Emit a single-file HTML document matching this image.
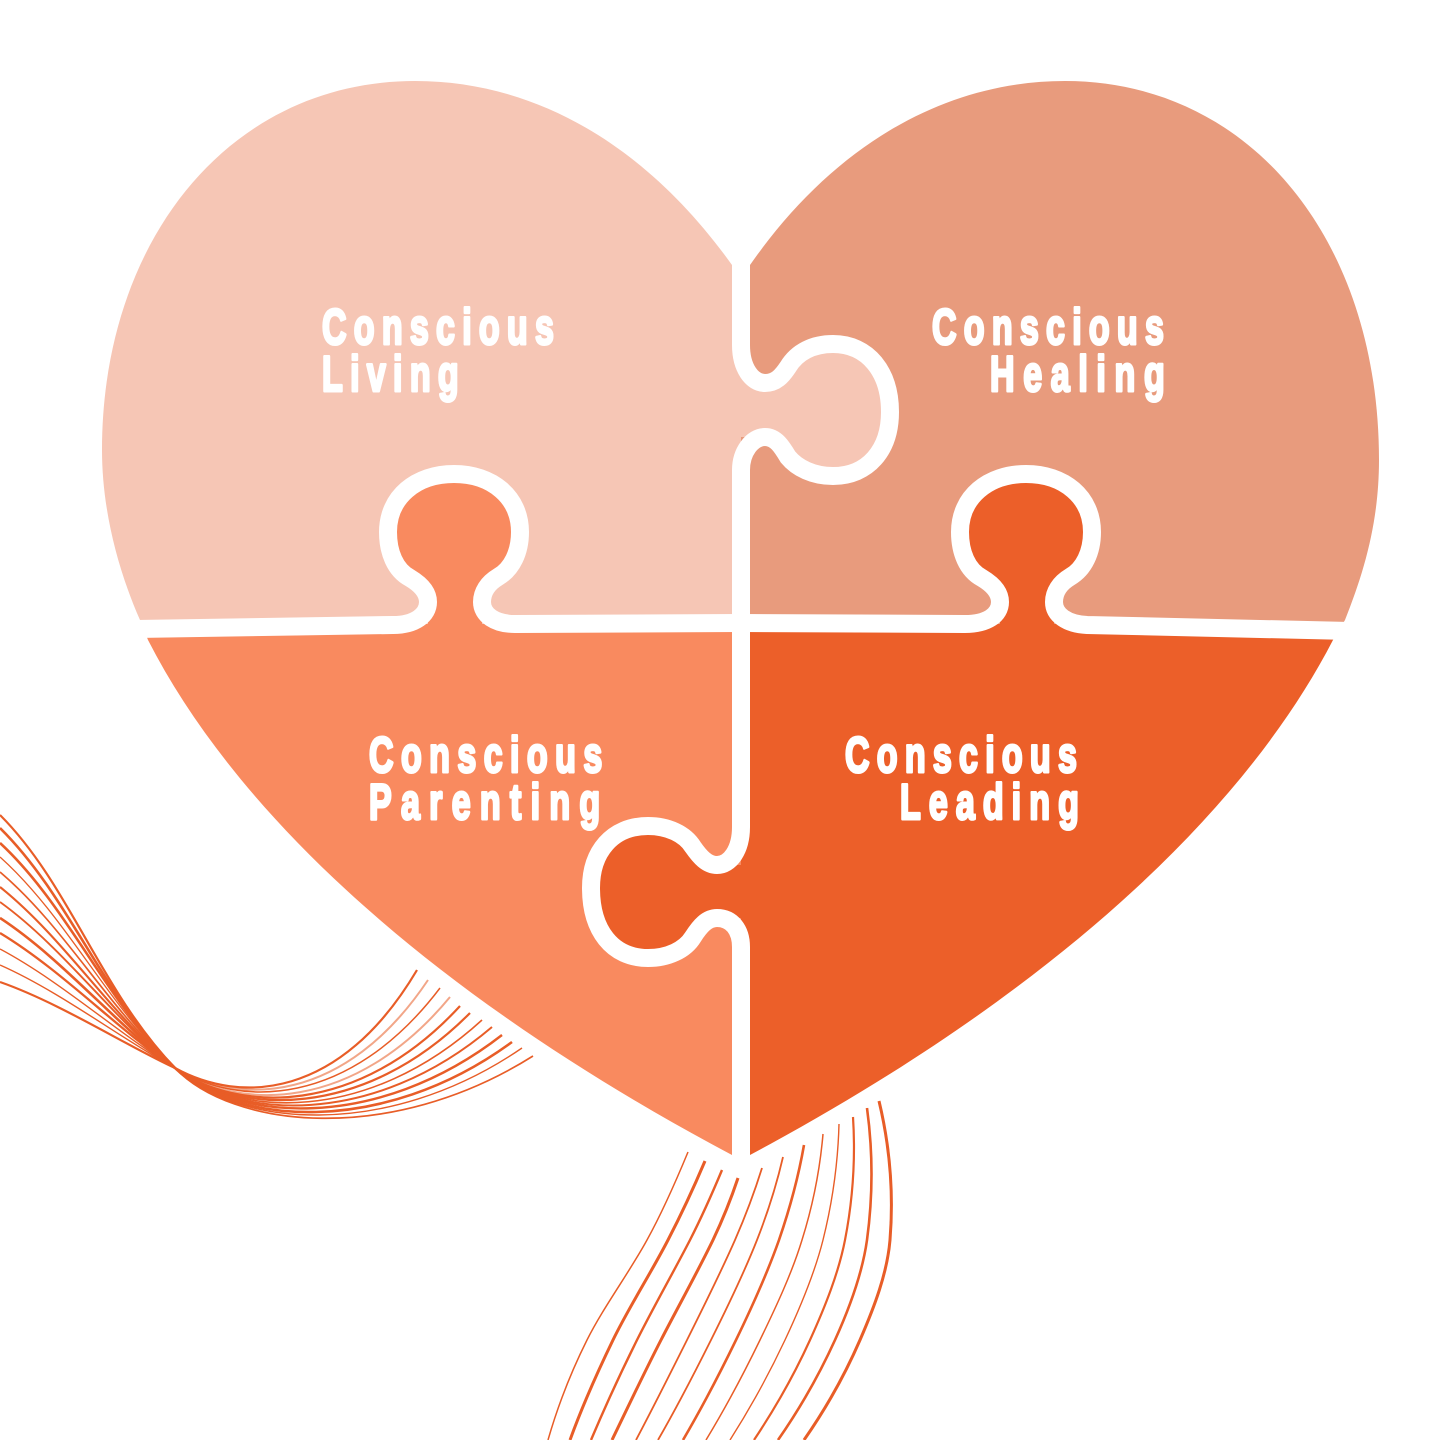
<!DOCTYPE html>
<html><head><meta charset="utf-8"><style>
html,body{margin:0;padding:0;background:#fff}
svg{display:block}
text{font-family:"Liberation Sans",sans-serif;font-weight:700;font-size:50px;fill:#fff;stroke:#fff;stroke-width:3;stroke-linejoin:round}
</style></head><body>
<svg width="1440" height="1440" viewBox="0 0 1440 1440" xmlns="http://www.w3.org/2000/svg">
<defs><clipPath id="h"><path d="M732,265 C650,150 540,81 415,81 C230,81 102,240 102,450 C102,510 118,570 140,620 L148,640 C240,820 440,1000 732,1155 L750,1155 C1040,1000 1240,820 1333,640 L1345,620 C1365,570 1379,520 1379,460 C1379,240 1250,81 1065,81 C940,81 830,150 750,265 Z"/></clipPath></defs>
<g fill="none" stroke="#e85d27" stroke-linecap="butt">
<path stroke-width="2.2" d="M0,815 C70,885 100,990 175,1068"/>
<path stroke-width="2.6" d="M0,828 C69,896 102,995 175,1068"/>
<path stroke-width="2.6" d="M0,843 C68,906 105,1000 175,1068"/>
<path stroke-width="1.3" d="M0,857 C67,917 107,1005 175,1068"/>
<path stroke-width="1.7" d="M0,872 C66,928 109,1010 175,1068"/>
<path stroke-width="2.1" d="M0,887 C65,939 111,1015 175,1068"/>
<path stroke-width="1.9" d="M0,902 C65,949 114,1020 175,1068"/>
<path stroke-width="2.6" d="M0,918 C64,960 116,1025 175,1068"/>
<path stroke-width="2.3" d="M0,933 C63,971 118,1030 175,1068"/>
<path stroke-width="1.4" d="M0,949 C62,982 120,1035 175,1068"/>
<path stroke-width="1.4" d="M0,965 C61,992 123,1040 175,1068"/>
<path stroke-width="2.2" d="M0,982 C60,1003 125,1045 175,1068"/>
<path stroke-width="1.7" d="M175,1068 C232,1128 390,1146 533,1056"/>
<path stroke-width="1.4" d="M175,1068 C233,1126 385,1142 522,1048"/>
<path stroke-width="2.6" d="M175,1068 C233,1124 381,1138 512,1042"/>
<path stroke-width="2.4" d="M175,1068 C234,1121 376,1133 502,1035"/>
<path stroke-width="2" d="M175,1068 C235,1119 372,1129 492,1027"/>
<path stroke-width="1.6" d="M175,1068 C236,1117 367,1125 482,1020"/>
<path stroke-width="2.2" d="M175,1068 C236,1115 363,1121 470,1013"/>
<path stroke-width="2.2" d="M175,1068 C237,1113 358,1117 460,1006"/>
<path stroke-width="2" stroke-opacity=".55" d="M175,1068 C238,1111 354,1113 450,997"/>
<path stroke-width="1.5" d="M175,1068 C239,1108 349,1108 440,988"/>
<path stroke-width="2" stroke-opacity=".55" d="M175,1068 C239,1106 345,1104 428,980"/>
<path stroke-width="2.2" d="M175,1068 C240,1104 340,1100 417,970"/>
<path stroke-width="1.5" d="M688,1152 C676,1181 663,1211 647,1240 C629,1273 603.5,1307 587,1340 C570.5,1373 557.5,1407 548,1440"/>
<path stroke-width="3" d="M705,1161 C694,1187 681.5,1214 668,1240 C651,1273 629,1307 613,1340 C597,1373 582,1407 570,1440"/>
<path stroke-width="2.4" d="M722,1170 C712.4,1193 701.7,1217 690,1240 C673,1273 653.5,1307 637,1340 C620.5,1373 605,1407 591,1440"/>
<path stroke-width="3" d="M738,1178 C731,1199 723,1219 713,1240 C697,1273 678,1307 661,1340 C644,1373 628,1407 612,1440"/>
<path stroke-width="1.8" d="M762,1168 C754.5,1192 745.5,1216 735,1240 C720.5,1273 703.5,1307 687,1340 C670.5,1373 653.5,1407 636,1440"/>
<path stroke-width="1.8" d="M783,1157 C776.5,1185 768,1212 757,1240 C744,1273 727.5,1307 711,1340 C694.5,1373 677,1407 658,1440"/>
<path stroke-width="2.6" d="M804,1145 C798.4,1177 790,1208 779,1240 C767.4,1273 752,1307 736,1340 C720,1373 702.3,1407 683,1440"/>
<path stroke-width="1.5" d="M823,1134 C820,1169 813,1205 802,1240 C792,1273 776,1307 760,1340 C744,1373 726,1407 706,1440"/>
<path stroke-width="1.4" d="M839,1124 C838,1163 832.7,1201 823,1240 C814.7,1273 800.5,1307 785,1340 C769.5,1373 751,1407 730,1440"/>
<path stroke-width="2.2" d="M853,1117 C855.6,1158 853,1199 845,1240 C838.6,1273 825,1307 810,1340 C795,1373 776,1407 754,1440"/>
<path stroke-width="2.6" d="M867,1108 C873,1152 873,1196 867,1240 C862.4,1273 850,1307 835,1340 C820,1373 801,1407 778,1440"/>
<path stroke-width="3" d="M879,1101 C890,1147 893.7,1194 890,1240 C887.3,1273 874.3,1307 860,1340 C845.7,1373 827,1407 804,1440"/>
</g>
<g clip-path="url(#h)">
<rect x="90" y="70" width="651" height="554" fill="#f6c6b5"/>
<rect x="741" y="70" width="650" height="554" fill="#e89b7d"/>
<rect x="90" y="624" width="651" height="540" fill="#f98a5f"/>
<rect x="741" y="624" width="650" height="540" fill="#ec5f29"/>
</g>
<path fill="#f98a5f" d="M428,602 C428,592 420,584 410,578 C395,570 388,552 388,532 C388,497 416,474 454,474 C492,474 520,497 520,532 C520,552 512,569 498,577 C488,583 482,592 482,602 L482,640 L428,640 Z"/>
<path fill="#ec5f29" d="M1000,602 C1000,592 992,584 982,578 C967,570 960,552 960,532 C960,497 988,474 1026,474 C1064,474 1092,497 1092,532 C1092,552 1084,569 1070,577 C1060,583 1054,592 1054,602 L1054,640 L1000,640 Z"/>
<path fill="#f6c6b5" d="M765,383 C776,383 782,376 788,367 C797,352 813,344 833,344 C868,344 890,372 890,412 C890,450 868,476 833,476 C813,476 797,468 788,457 C782,447 776,437 765,437 L730,437 L730,360 L745,360 Z"/>
<path fill="#ec5f29" d="M717,865 C707,865 700,857 693,847 C685,834 668,826 648,826 C612,826 591,852 591,888 C591,930 612,958 648,958 C668,958 685,950 693,937 C700,926 707,918 717,918 L750,918 L750,865 Z"/>
<g fill="none" stroke="#fff" stroke-width="18">
<path d="M136,629 L393,625 C415,625 428,615 428,602 C428,592 420,584 410,578 C395,570 388,552 388,532 C388,497 416,474 454,474 C492,474 520,497 520,532 C520,552 512,569 498,577 C488,583 482,592 482,602 C482,615 495,624 515,624 L741,623"/>
<path d="M741,623 L965,624 C987,624 1000,615 1000,602 C1000,592 992,584 982,578 C967,570 960,552 960,532 C960,497 988,474 1026,474 C1064,474 1092,497 1092,532 C1092,552 1084,569 1070,577 C1060,583 1054,592 1054,602 C1054,615 1067,624 1087,625 L1350,631"/>
<path d="M741,262 L741,345 C741,368 752,383 765,383 C776,383 782,376 788,367 C797,352 813,344 833,344 C868,344 890,372 890,412 C890,450 868,476 833,476 C813,476 797,468 788,457 C782,447 776,437 765,437 C752,437 741,452 741,470 L741,827 C741,850 730,865 717,865 C707,865 700,857 693,847 C685,834 668,826 648,826 C612,826 591,852 591,888 C591,930 612,958 648,958 C668,958 685,950 693,937 C700,926 707,918 717,918 C732,918 741,930 741,947 L741,1160"/>
</g>
<text transform="translate(322,344) scale(.68,1)" textLength="341" lengthAdjust="spacing">Conscious</text>
<text transform="translate(322,391) scale(.68,1)" textLength="201" lengthAdjust="spacing">Living</text>
<text transform="translate(932,344) scale(.68,1)" textLength="341" lengthAdjust="spacing">Conscious</text>
<text transform="translate(990,391) scale(.68,1)" textLength="257" lengthAdjust="spacing">Healing</text>
<text transform="translate(369,772) scale(.68,1)" textLength="343" lengthAdjust="spacing">Conscious</text>
<text transform="translate(369,819) scale(.68,1)" textLength="340" lengthAdjust="spacing">Parenting</text>
<text transform="translate(845,772) scale(.68,1)" textLength="341" lengthAdjust="spacing">Conscious</text>
<text transform="translate(900,819) scale(.68,1)" textLength="263" lengthAdjust="spacing">Leading</text>
</svg>
</body></html>
